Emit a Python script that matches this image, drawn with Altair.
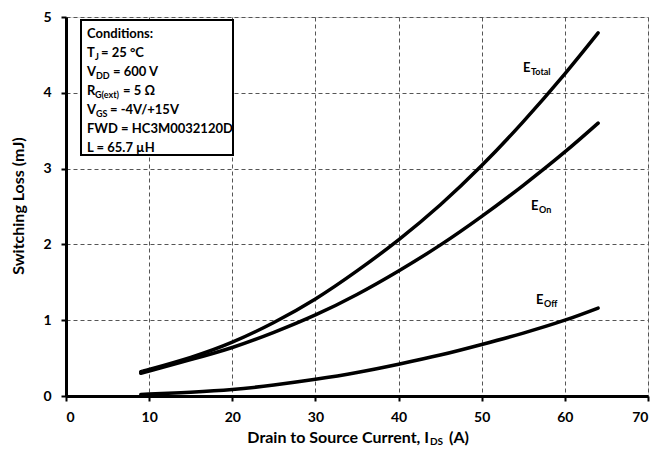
import altair as alt
import pandas as pd

# ---- data ----
ids = [9, 10, 15, 20, 25, 30, 35, 40, 45, 50, 55, 60, 64]
e_total = [0.32, 0.35, 0.51, 0.71, 0.97, 1.28, 1.65, 2.06, 2.52, 3.04, 3.62, 4.25, 4.79]
e_on = [0.30, 0.33, 0.48, 0.64, 0.84, 1.07, 1.34, 1.65, 1.99, 2.37, 2.78, 3.22, 3.60]
e_off = [0.02, 0.025, 0.05, 0.085, 0.145, 0.22, 0.31, 0.42, 0.54, 0.68, 0.83, 1.00, 1.16]

x_ticks = [0, 10, 20, 30, 40, 50, 60, 70]
y_ticks = [0, 1, 2, 3, 4, 5]

FONT = "Lato"
LEFT, TOP = 66, 17          # page position of plot origin
W, H = 582, 379
XMAX, YMAX = 70, 5


def px2x(p):
    return (p - LEFT) / W * XMAX


def px2y(p):
    return YMAX - (p - TOP) / H * YMAX


rows = []
for name, vals in [("Total", e_total), ("On", e_on), ("Off", e_off)]:
    for x, v in zip(ids, vals):
        rows.append({"I": x, "E": v, "series": name})
df = pd.DataFrame(rows)

xs = alt.Scale(domain=[0, XMAX], nice=False)
ys = alt.Scale(domain=[0, YMAX], nice=False)

axis_common = dict(grid=True, gridDash=[4, 3], gridColor="#555", gridWidth=1,
                   domainColor="black", domainWidth=3, tickColor="black",
                   tickWidth=2, tickSize=5, labelFont=FONT, labelFontSize=14,
                   labelFontWeight="bold", labelColor="black", format="d", title="")
X_AX = alt.Axis(values=x_ticks, labelPadding=9, **axis_common)
Y_AX = alt.Axis(values=y_ticks, labelPadding=10, **axis_common)


def X(f):
    return alt.X(f, scale=xs, axis=X_AX)


def Y(f):
    return alt.Y(f, scale=ys, axis=Y_AX)


lines = alt.Chart(df).mark_line(color="black", strokeWidth=3.5, strokeCap="round",
                                interpolate="natural").encode(
    x=X("I:Q"), y=Y("E:Q"), detail="series:N",
)

# conditions box
box_df = pd.DataFrame([{"x": px2x(81), "x2": px2x(233), "y": px2y(20), "y2": px2y(155)}])
box = alt.Chart(box_df).mark_rect(fill="white", stroke="black", strokeWidth=2).encode(
    x=X("x:Q"), x2="x2:Q", y=Y("y:Q"), y2="y2:Q")

# text fragments: (page x, page y, text, kind, align)
frags = [
    (87, 34, "Conditions:", "main", "left"),
    (87, 53, "T", "main", "left"), (95, 57, "J", "sub", "left"), (101, 53, "= 25 °C", "main", "left"),
    (87, 72, "V", "main", "left"), (96, 76, "DD", "sub", "left"), (113, 72, "= 600 V", "main", "left"),
    (87, 91, "R", "main", "left"), (95, 95, "G(ext)", "sub", "left"), (123, 91, "= 5 Ω", "main", "left"),
    (87, 110, "V", "main", "left"), (96, 114, "GS", "sub", "left"), (110, 110, "= -4V/+15V", "main", "left"),
    (87, 129, "FWD = HC3M0032120D", "main", "left"),
    (87, 148, "L = 65.7 µH", "main", "left"),
    (523, 68, "E", "lab", "left"), (531, 72, "Total", "labsub", "left"),
    (531, 206, "E", "lab", "left"), (539, 210, "On", "labsub", "left"),
    (536, 300, "E", "lab", "left"), (544, 304, "Off", "labsub", "left"),
    (429, 438, "Drain to Source Current, I", "title", "right"),
    (430, 442, "DS", "titlesub", "left"),
    (449, 438, "(A)", "title", "left"),
]
sizes = {"main": 13, "sub": 9, "lab": 13, "labsub": 9, "title": 16, "titlesub": 10}
frag_df = pd.DataFrame([{"x": px2x(px), "y": px2y(py), "t": t, "kind": k, "al": a}
                        for px, py, t, k, a in frags])

texts = []
for kind, size in sizes.items():
    for al in ["left", "right"]:
        sub = frag_df[(frag_df.kind == kind) & (frag_df.al == al)]
        if len(sub) == 0:
            continue
        texts.append(
            alt.Chart(sub).mark_text(align=al, baseline="middle", font=FONT,
                                     fontWeight="bold", fontSize=size, color="black")
            .encode(x=X("x:Q"), y=Y("y:Q"), text="t:N")
        )

ytitle_df = pd.DataFrame([{"x": px2x(19), "y": px2y(206), "t": "Switching Loss (mJ)"}])
ytitle = alt.Chart(ytitle_df).mark_text(angle=270, align="center", baseline="middle",
                                        font=FONT, fontWeight="bold", fontSize=16,
                                        color="black").encode(
    x=X("x:Q"), y=Y("y:Q"), text="t:N")

chart = alt.layer(lines, box, *texts, ytitle).properties(
    width=W, height=H,
    autosize=alt.AutoSizeParams(type="none"),
    padding={"left": LEFT - 8, "top": TOP - 8, "right": 2, "bottom": 50},
).configure_view(strokeWidth=0).configure(background="white")

chart.save("out.html", embed_options={"renderer": "svg", "actions": False})
